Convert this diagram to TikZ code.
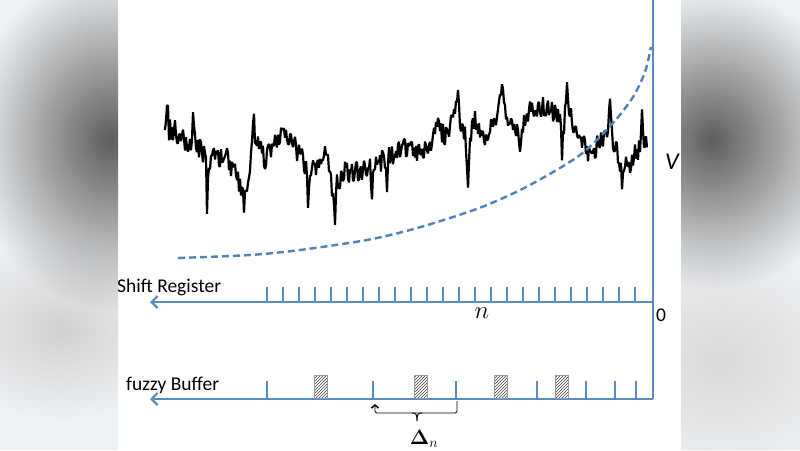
\documentclass[tikz,border=0pt]{standalone}
\usepackage{fontspec}
\usepackage{amsmath}
\setmainfont{Carlito}
\usetikzlibrary{arrows.meta,patterns,fadings}
\definecolor{axisblue}{HTML}{5A8CC4}
\definecolor{curveblue}{HTML}{4F81BD}
\definecolor{sidebg}{HTML}{EEF1F4}
\definecolor{blobgray}{HTML}{5E5E5E}
\tikzfading[name=blobfade, inner color=transparent!0, outer color=transparent!100]
\tikzset{
  axisline/.style={axisblue, line width=2.2pt},
  regline/.style={axisblue, line width=2.2pt, -{Straight Barb[length=6pt,width=12pt]}},
  tickline/.style={axisblue, line width=1.8pt},
  hatchbox/.style={draw=gray!80, line width=0.8pt, pattern=north east lines, pattern color=black!75},
  expcurve/.style={curveblue, line width=2.4pt, dash pattern=on 7pt off 4pt},
  signal/.style={black, line width=2.2pt, line join=bevel},
  bracket/.style={black, line width=0.9pt, rounded corners=1.5pt},
  lbl/.style={inner sep=0pt, font=\fontsize{19.5}{22}\selectfont},
}
\newcount\rngA \rngA=12345
\newcount\rngT
\newcount\rngQ
\def\nextrnd{%
  \rngT=\rngA \multiply\rngT by 171
  \rngQ=\rngT \divide\rngQ by 30269 \multiply\rngQ by 30269
  \advance\rngT by -\rngQ
  \global\rngA=\rngT}
\begin{document}
\begin{tikzpicture}[x=1pt,y=-1pt]
\useasboundingbox (0,0) rectangle (800,450);
\fill[white] (0,0) rectangle (800,450);

% noisy signal
\gdef\sigpath{}
\foreach \xb/\yb [remember=\xb as \xa (initially 165), remember=\yb as \ya (initially 130)] in {
 167/100, 169/130, 175/130, 185/143, 192/140, 193/117, 195/140, 200/150, 206/160, 207/203, 209/165,
 215/157, 225/155, 235/172, 242/190, 244/207, 246/185, 250/170, 252/140, 253/113, 255/135, 260/150,
 265/160, 272/148, 280/137, 290/140, 300/155, 306/168, 308/200, 310/172, 320/160, 327/150, 331/175,
 335/220, 337/185, 345/172, 360/170, 370/168, 372/200, 374/165, 385/160, 387/187, 389/158, 400/152,
 410/143, 420/153, 430/150, 437/125, 445/137, 455/115, 458/98, 460/118, 465/135, 468/183, 470/135,
 475/120, 485/135, 495/120, 500/105, 502/88, 504/105, 510/120, 518/130, 520/157, 522/128, 530/110,
 545/105, 555/112, 560/125, 562/150, 564/125, 566/105, 567/80, 569/110, 575/135, 585/147, 590/157,
 600/142, 608/130, 610/108, 612/135, 618/158, 621/165, 622/183, 624/165, 628/167, 635/155, 640/145,
 642/113, 644/143, 647/140}{
  \pgfmathtruncatemacro\nn{\xb-\xa}
  \foreach \k in {1,...,\nn}{
    \nextrnd
    \pgfmathsetmacro\px{\xa+\k}
    \pgfmathsetmacro\py{\ya+(\yb-\ya)*\k/\nn+\the\numexpr\rngA*2200/30269\relax/100-11}
    \xdef\sigpath{\sigpath -- (\px,\py)}
  }
}
\edef\drawsig{\noexpand\draw[signal] (165,130) \sigpath;}
\drawsig

% dashed curve
\draw[expcurve] plot[smooth, tension=0.5] coordinates {(178,258) (250,255) (300,250) (367,240) (410,230) (450,218) (487,205) (530,185) (580,155) (613,123) (633,97) (645,72) (651,47)};

% axes
\coordinate (top) at (653,0);
\coordinate (orig) at (653,302);
\coordinate (fb) at (653,399);
\coordinate (srend) at (150,302);
\coordinate (fbend) at (150,399);
\draw[axisline] (top) -- (fb);
\draw[regline] (orig) -- (srend);
\draw[regline] (fb) -- (fbend);

% shift register ticks
\foreach \i in {0,...,23}{
  \draw[tickline] ({267+16*\i},303) -- ({267+16*\i},287);
}
% fuzzy buffer ticks
\foreach \x in {267,373,456,537,586,615,636}{
  \draw[tickline] (\x,400) -- (\x,381);
}
% hatched boxes
\foreach \x in {314,414,494,555}{
  \draw[hatchbox] (\x,375) rectangle (\x+13,398.5);
}

% bracket
\draw[bracket, {Straight Barb[length=3pt,width=7pt,line width=1.6pt]}-] (375,404) -- (375,413) -- (457,413) -- (457,401);
\draw[bracket, rounded corners=0pt] (412,413) .. controls (416,413) and (417,414) .. (417,421);
\draw[bracket, rounded corners=0pt] (422,413) .. controls (418,413) and (417,414) .. (417,421);

% labels
\node[lbl, anchor=base west] (sr) at (117,292) {Shift Register};
\node[lbl, anchor=base west] (fz) at (126,390) {fuzzy Buffer};
\node[lbl, font=\fontsize{24}{26}\selectfont] (nl) at (482,313) {$n$};
\node[lbl, anchor=west] (zero) at (656,315) {0};
\node[lbl, font=\fontsize{24}{26}\selectfont\itshape, anchor=west] (vl) at (665,162) {V};
\node[lbl, font=\fontsize{22}{24}\selectfont] (dl) at (424,439) {$\boldsymbol{\Delta}_n$};

% blurred side panels
\begin{scope}
  \clip (0,0) rectangle (118,450);
  \fill[sidebg] (0,0) rectangle (118,450);
  \fill[black!18, path fading=blobfade] (60,330) ellipse (120 and 90);
  \fill[blobgray, path fading=blobfade] (110,140) ellipse (140 and 170);
\end{scope}
\begin{scope}
  \clip (681,0) rectangle (800,450);
  \fill[sidebg] (681,0) rectangle (800,450);
  \fill[black!15, path fading=blobfade] (720,360) ellipse (140 and 120);
  \fill[blobgray, path fading=blobfade] (712,140) ellipse (140 and 150);
\end{scope}
\end{tikzpicture}
\end{document}
